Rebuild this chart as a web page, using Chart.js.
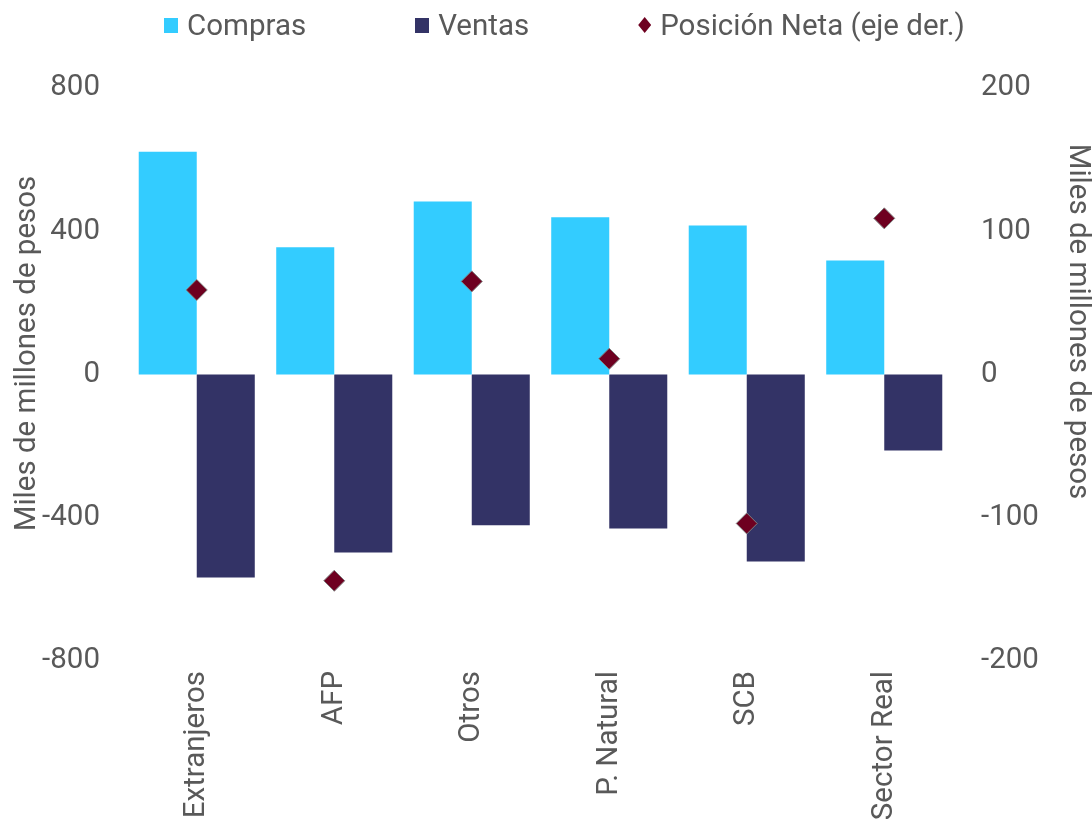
<!DOCTYPE html>
<html>
<head>
<meta charset="utf-8">
<script src="https://cdn.jsdelivr.net/npm/chart.js@4"></script>
<style>
  body { margin: 0; background: #fff; }
  #wrap { position: relative; width: 1092px; height: 820px; }
  #legend {
    position: absolute; top: 7px; left: 164px;
    display: flex; list-style: none; margin: 0; padding: 0;
    font: 29.5px Roboto, sans-serif; color: #595959; line-height: 36px;
  }
  #legend li { display: flex; align-items: center; margin-right: 109px; white-space: nowrap; }
  #legend .mark { display: inline-block; width: 14px; height: 15px; margin-right: 9px; }
  #legend .diamond { width: 13px; height: 16px; clip-path: polygon(50% 0, 100% 50%, 50% 100%, 0 50%); }
</style>
</head>
<body>
<div id="wrap">
  <ul id="legend"></ul>
  <canvas id="chart" width="1092" height="820"></canvas>
</div>
<script>
// Sample data
const sectors = ['Extranjeros', 'AFP', 'Otros', 'P. Natural', 'SCB', 'Sector Real'];
const compras = [622, 355, 483, 439, 416, 318];
const ventas = [-567, -497, -421, -430, -522, -212];
const posicionNeta = [59, -144, 65, 11, -104, 109];

const grey = '#595959';
const font = { family: 'Roboto', size: 29.5 };
const axisTitle = 'Miles de millones de pesos';

// Axis titles, drawn by hand so each can sit off-centre
const axisTitles = {
  id: 'axisTitles',
  afterDraw(chart) {
    const { ctx, chartArea } = chart;
    const mid = (chartArea.top + chartArea.bottom) / 2;
    ctx.save();
    ctx.fillStyle = grey;
    ctx.font = font.size + 'px ' + font.family;
    ctx.textAlign = 'center';
    ctx.textBaseline = 'middle';

    ctx.save();
    ctx.translate(28, mid - 21);
    ctx.rotate(-Math.PI / 2);
    ctx.fillText(axisTitle, 0, 0);
    ctx.restore();

    ctx.save();
    ctx.translate(chart.width - 15, mid - 53);
    ctx.rotate(Math.PI / 2);
    ctx.fillText(axisTitle, 0, 0);
    ctx.restore();

    ctx.restore();
  }
};

const chart = new Chart(document.getElementById('chart'), {
  type: 'bar',
  data: {
    labels: sectors,
    datasets: [{
      label: 'Compras',
      data: compras,
      backgroundColor: '#33CCFF',
      order: 1
    }, {
      label: 'Ventas',
      data: ventas,
      backgroundColor: '#333366',
      order: 1
    }, {
      type: 'line',
      label: 'Posición Neta (eje der.)',
      data: posicionNeta,
      yAxisID: 'y1',
      showLine: false,
      pointStyle: 'rectRot',
      pointRadius: 10.5,
      pointBackgroundColor: '#6E0020',
      pointBorderColor: '#7F7F7F',
      pointBorderWidth: 1,
      order: 0
    }]
  },
  options: {
    responsive: false,
    animation: false,
    layout: { padding: { top: 88, bottom: 0, left: 0, right: 0 } },
    datasets: {
      bar: { categoryPercentage: 0.844, barPercentage: 1 }
    },
    plugins: {
      legend: { display: false },
      tooltip: { enabled: false }
    },
    scales: {
      x: {
        grid: { display: false, drawTicks: false },
        border: { display: false },
        ticks: { color: grey, font: font, maxRotation: 90, minRotation: 90, padding: 10 },
        afterFit: (scale) => { scale.height = 159; }
      },
      y: {
        position: 'left',
        min: -800, max: 800,
        grid: { display: false, drawTicks: false },
        border: { display: false },
        ticks: { stepSize: 400, color: grey, font: font, padding: 28 },
        afterFit: (scale) => { scale.width = 128; }
      },
      y1: {
        position: 'right',
        min: -200, max: 200,
        grid: { display: false, drawTicks: false },
        border: { display: false },
        ticks: { stepSize: 100, color: grey, font: font, padding: 28 },
        afterFit: (scale) => { scale.width = 139; }
      }
    }
  },
  plugins: [axisTitles]
});

// Legend
const legend = document.getElementById('legend');
chart.data.datasets.forEach((ds) => {
  const li = document.createElement('li');
  const mark = document.createElement('span');
  mark.className = ds.type === 'line' ? 'mark diamond' : 'mark';
  mark.style.background = ds.type === 'line' ? ds.pointBackgroundColor : ds.backgroundColor;
  li.appendChild(mark);
  li.appendChild(document.createTextNode(ds.label));
  legend.appendChild(li);
});
</script>
</body>
</html>
